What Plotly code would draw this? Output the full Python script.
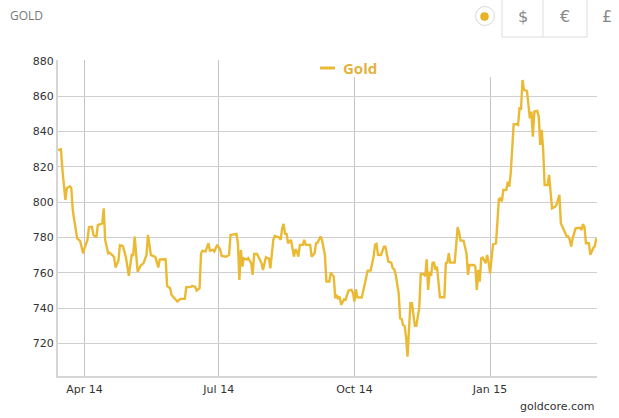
import plotly.graph_objects as go

# ---- data ----
dates = [
    "2014-03-14", "2014-03-16", "2014-03-17", "2014-03-19", "2014-03-20", "2014-03-22", "2014-03-23",
    "2014-03-24", "2014-03-25", "2014-03-27", "2014-03-29", "2014-03-31", "2014-04-01", "2014-04-03",
    "2014-04-04", "2014-04-06", "2014-04-07", "2014-04-09", "2014-04-10", "2014-04-13", "2014-04-14",
    "2014-04-15", "2014-04-17", "2014-04-18", "2014-04-21", "2014-04-22", "2014-04-24", "2014-04-25",
    "2014-04-27", "2014-04-29", "2014-05-01", "2014-05-03", "2014-05-04", "2014-05-05", "2014-05-07",
    "2014-05-09", "2014-05-11", "2014-05-13", "2014-05-14", "2014-05-16", "2014-05-19", "2014-05-21",
    "2014-05-22", "2014-05-25", "2014-05-26", "2014-05-27", "2014-05-29", "2014-05-30", "2014-06-02",
    "2014-06-03", "2014-06-05", "2014-06-08", "2014-06-09", "2014-06-12", "2014-06-13", "2014-06-15",
    "2014-06-16", "2014-06-18", "2014-06-19", "2014-06-20", "2014-06-22", "2014-06-23", "2014-06-24",
    "2014-06-25", "2014-06-27", "2014-06-28", "2014-06-30", "2014-07-02", "2014-07-03", "2014-07-06",
    "2014-07-08", "2014-07-09", "2014-07-13", "2014-07-14", "2014-07-15", "2014-07-16", "2014-07-17",
    "2014-07-18", "2014-07-20", "2014-07-21", "2014-07-23", "2014-07-24", "2014-07-25", "2014-07-27",
    "2014-07-29", "2014-07-30", "2014-07-31", "2014-08-02", "2014-08-03", "2014-08-04", "2014-08-05",
    "2014-08-07", "2014-08-08", "2014-08-11", "2014-08-12", "2014-08-13", "2014-08-14", "2014-08-15",
    "2014-08-16", "2014-08-17", "2014-08-19", "2014-08-20", "2014-08-21", "2014-08-22", "2014-08-23",
    "2014-08-24", "2014-08-25", "2014-08-27", "2014-08-28", "2014-08-29", "2014-09-01", "2014-09-02",
    "2014-09-04", "2014-09-05", "2014-09-06", "2014-09-08", "2014-09-09", "2014-09-11", "2014-09-12",
    "2014-09-14", "2014-09-15", "2014-09-17", "2014-09-18", "2014-09-19", "2014-09-20", "2014-09-21",
    "2014-09-22", "2014-09-24", "2014-09-25", "2014-09-27", "2014-09-29", "2014-09-30", "2014-10-01",
    "2014-10-02", "2014-10-03", "2014-10-06", "2014-10-07", "2014-10-09", "2014-10-10", "2014-10-12",
    "2014-10-14", "2014-10-15", "2014-10-16", "2014-10-17", "2014-10-19", "2014-10-21", "2014-10-22",
    "2014-10-24", "2014-10-26", "2014-10-27", "2014-10-28", "2014-10-29", "2014-10-30", "2014-10-31",
    "2014-11-01", "2014-11-02", "2014-11-03", "2014-11-04", "2014-11-05", "2014-11-06", "2014-11-07",
    "2014-11-08", "2014-11-09", "2014-11-10", "2014-11-11", "2014-11-12", "2014-11-13", "2014-11-14",
    "2014-11-15", "2014-11-17", "2014-11-18", "2014-11-19", "2014-11-20", "2014-11-21", "2014-11-22",
    "2014-11-23", "2014-11-24", "2014-11-25", "2014-11-26", "2014-11-27", "2014-11-28", "2014-12-01",
    "2014-12-02", "2014-12-03", "2014-12-04", "2014-12-05", "2014-12-08", "2014-12-09", "2014-12-10",
    "2014-12-11", "2014-12-12", "2014-12-14", "2014-12-16", "2014-12-17", "2014-12-18", "2014-12-21",
    "2014-12-22", "2014-12-23", "2014-12-24", "2014-12-25", "2014-12-26", "2014-12-27", "2014-12-29",
    "2014-12-30", "2014-12-31", "2015-01-01", "2015-01-02", "2015-01-03", "2015-01-05", "2015-01-07",
    "2015-01-08", "2015-01-09", "2015-01-10", "2015-01-12", "2015-01-13", "2015-01-14", "2015-01-15",
    "2015-01-17", "2015-01-19", "2015-01-20", "2015-01-21", "2015-01-22", "2015-01-23", "2015-01-24",
    "2015-01-26", "2015-01-27", "2015-01-28", "2015-01-29", "2015-01-30", "2015-01-31", "2015-02-02",
    "2015-02-03", "2015-02-04", "2015-02-05", "2015-02-06", "2015-02-07", "2015-02-09", "2015-02-10",
    "2015-02-11", "2015-02-12", "2015-02-14", "2015-02-15", "2015-02-17", "2015-02-18", "2015-02-20",
    "2015-02-22", "2015-02-23", "2015-02-24", "2015-02-25", "2015-02-26", "2015-02-28", "2015-03-03",
    "2015-03-04", "2015-03-05", "2015-03-06", "2015-03-07", "2015-03-09", "2015-03-10", "2015-03-12",
    "2015-03-13", "2015-03-14",
]

gold = [
    829.6, 830.0, 818.2, 801.2, 807.9, 809.0, 808.0,
    795.6, 790.0, 779.5, 778.0, 771.0, 774.0, 778.6,
    785.8, 786.0, 781.4, 780.0, 787.0, 788.0, 796.5,
    778.6, 771.0, 771.4, 769.0, 763.0, 767.0, 775.6,
    775.0, 769.0, 758.2, 770.1, 770.0, 780.5, 760.6,
    764.0, 765.5, 770.0, 781.4, 770.0, 769.0, 763.0,
    767.5, 767.5, 767.6, 752.5, 751.2, 747.4, 744.6,
    743.7, 745.2, 745.2, 751.8, 752.0, 752.5, 752.0,
    749.9, 751.2, 771.0, 772.5, 772.0, 774.8, 776.7,
    772.5, 773.0, 772.0, 775.8, 773.0, 769.5, 769.1,
    770.0, 781.4, 782.0, 776.7, 755.9, 772.9, 763.5,
    768.2, 767.4, 768.2, 765.4, 758.8, 770.6, 770.6,
    767.4, 765.4, 761.6, 768.8, 768.2, 768.0, 762.5,
    778.6, 780.8, 780.0, 778.6, 785.2, 787.6, 782.0,
    782.0, 776.7, 778.6, 774.8, 769.1, 773.3, 772.0,
    769.1, 775.8, 775.8, 778.6, 775.8, 775.8, 769.1,
    771.0, 776.7, 777.0, 780.5, 778.6, 770.0, 755.0,
    755.0, 760.0, 757.8, 745.6, 747.4, 745.0, 746.5,
    741.8, 745.0, 744.6, 749.9, 750.3, 748.7, 743.7,
    750.6, 746.1, 746.0, 750.3, 757.8, 761.2, 761.2,
    769.0, 775.8, 776.3, 770.1, 770.0, 774.8, 774.8,
    766.3, 765.7, 762.5, 762.0, 758.8, 754.0, 748.4,
    734.2, 733.9, 730.4, 730.0, 723.8, 712.5, 727.6,
    742.7, 742.7, 737.0, 729.9, 729.9, 734.2, 740.5,
    759.3, 759.3, 758.0, 767.6, 750.3, 760.6, 758.2,
    765.7, 765.7, 761.6, 763.5, 755.0, 746.1, 746.1,
    765.4, 765.7, 771.0, 765.7, 765.7, 775.8, 785.8,
    782.8, 778.2, 778.2, 771.0, 758.8, 764.4, 764.4,
    763.5, 750.3, 761.6, 755.0, 768.2, 768.6, 765.4,
    770.1, 766.0, 759.7, 769.0, 776.1, 776.6, 801.8,
    802.2, 800.4, 806.9, 807.0, 811.6, 808.8, 816.4,
    844.1, 844.1, 843.7, 853.2, 853.0, 869.2, 863.6,
    863.0, 856.0, 847.5, 851.3, 837.1, 851.3, 851.7,
    848.4, 832.4, 840.9, 829.6, 809.7, 809.7, 815.4,
    805.0, 796.5, 797.4, 798.4, 804.1, 788.0, 784.2,
    780.5, 780.5, 778.6, 774.8, 779.5, 785.2, 785.5,
    784.2, 787.5, 786.0, 776.7, 776.7, 770.1, 774.0,
    775.0, 779.5,
]

y_ticks = [720, 740, 760, 780, 800, 820, 840, 860, 880]
series_name = "Gold"
header_title = "GOLD"
currency_symbols = ["$", "€", "£"]
source_text = "goldcore.com"

# ---- layout geometry (pixels) ----
W, H = 619, 418
L, R, T, B = 58, 22, 60, 42
PW, PH = W - L - R, H - T - B


def px(x):
    return (x - L) / PW


def py(y):
    return (H - B - y) / PH


LINE_COLOR = "#EBBA35"
TEXT_GOLD = "#E2B43E"
GRID = "#cfcfcf"

fig = go.Figure()
fig.add_trace(go.Scatter(
    x=dates, y=gold, mode="lines", name=series_name,
    line=dict(color=LINE_COLOR, width=2.4),
    showlegend=False,
))

shapes = [
    # white legend backdrop that hides the grid behind the legend
    dict(type="rect", xref="paper", yref="paper", x0=px(318), x1=px(595), y0=py(77), y1=py(54),
         fillcolor="white", line=dict(width=0), layer="above"),
    # legend dash
    dict(type="line", xref="paper", yref="paper", x0=px(320), x1=px(335), y0=py(68), y1=py(68),
         line=dict(color=LINE_COLOR, width=3), layer="above"),
    # currency toggle box
    dict(type="rect", xref="paper", yref="paper", x0=px(502), x1=px(587), y0=py(37), y1=py(-2),
         fillcolor="white", line=dict(color="#dddddd", width=1), layer="above"),
    dict(type="line", xref="paper", yref="paper", x0=px(543), x1=px(543), y0=py(37), y1=py(-2),
         line=dict(color="#dddddd", width=1), layer="above"),
    # gold dot button
    dict(type="circle", xref="paper", yref="paper", x0=px(475.5), x1=px(494.5), y0=py(25.5), y1=py(6.5),
         fillcolor="white", line=dict(color="#d8d8d8", width=1), layer="above"),
    dict(type="circle", xref="paper", yref="paper", x0=px(480.5), x1=px(488.5), y0=py(20.5), y1=py(12.5),
         fillcolor="#E9B420", line=dict(color="#d9a514", width=0.5), layer="above"),
]

annotations = [
    dict(text="<b>" + series_name + "</b>", xref="paper", yref="paper", x=px(341), y=py(68),
         xanchor="left", yanchor="middle", showarrow=False,
         font=dict(family="Open Sans", size=15, color=TEXT_GOLD)),
    dict(text=header_title, xref="paper", yref="paper", x=px(8), y=py(16),
         xanchor="left", yanchor="middle", showarrow=False,
         font=dict(family="Open Sans", size=12, color="#777777")),
    dict(text=source_text, xref="paper", yref="paper", x=px(597), y=py(406),
         xanchor="right", yanchor="middle", showarrow=False,
         font=dict(family="DejaVu Sans", size=11, color="#333333")),
]
for sym, cx in zip(currency_symbols, [523, 565, 607]):
    annotations.append(dict(text=sym, xref="paper", yref="paper", x=px(cx), y=py(17),
                            xanchor="center", yanchor="middle", showarrow=False,
                            font=dict(family="DejaVu Sans", size=16, color="#888888")))

fig.update_layout(
    width=W, height=H,
    margin=dict(l=L, r=R, t=T, b=B, pad=0),
    paper_bgcolor="white", plot_bgcolor="white",
    shapes=shapes, annotations=annotations,
    showlegend=False,
)
fig.update_xaxes(
    type="date", range=["2014-03-14", "2015-03-14 12:00"],
    tick0="2014-01-01", dtick="M3", tickformat="%b %y",
    showgrid=True, gridcolor="#c4c4c4", gridwidth=1,
    showline=True, linecolor="#d6d6d6", linewidth=2,
    ticks="", zeroline=False, ticklabelstandoff=2,
    tickfont=dict(family="DejaVu Sans", size=11, color="#333333"),
)
fig.update_yaxes(
    range=[701.5, 880.5], tickvals=y_ticks,
    showgrid=True, gridcolor=GRID, gridwidth=1,
    showline=True, linecolor="#d6d6d6", linewidth=2,
    ticks="", zeroline=False,
    tickfont=dict(family="DejaVu Sans", size=11, color="#333333"),
)

fig.write_html(
    "out.html",
    config={"displayModeBar": False},
    post_script="document.body.style.margin='0';document.body.style.padding='0';",
)
